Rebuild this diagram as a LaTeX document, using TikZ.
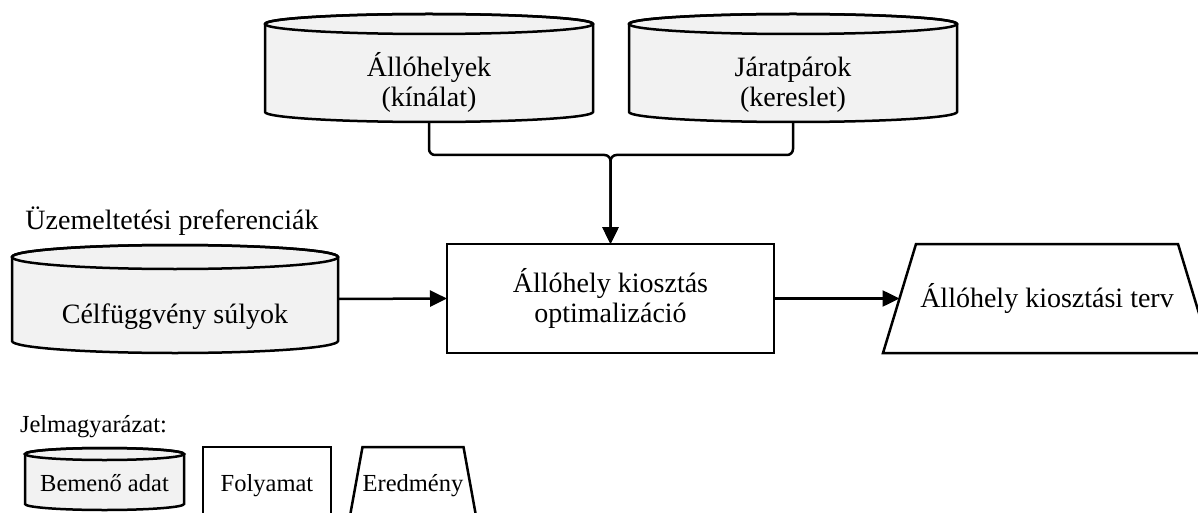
\documentclass[tikz,border=0pt]{standalone}
\usepackage{fontspec}
\setmainfont{Liberation Serif}
\usetikzlibrary{shapes.geometric,arrows.meta,calc}
\definecolor{cylfill}{RGB}{242,242,242}
\tikzset{
  ln/.style={line width=2.5pt},
  cylbox/.style={rectangle, inner sep=0pt, outer sep=0pt},
  procbox/.style={rectangle, draw, ln, fill=white, inner sep=0pt, outer sep=0pt, align=center},
  plainbox/.style={rectangle, inner sep=0pt, outer sep=0pt},
  txt/.style={inner sep=0pt, outer sep=0pt, anchor=base},
  conn/.style={ln, -{Triangle[length=17pt,width=16pt]}},
  bigtext/.style={font=\fontsize{28}{30}\selectfont},
  legtext/.style={font=\fontsize{24.5}{28}\selectfont},
}
% #1 node name, #2 half width, #3 ellipse y radius
\newcommand\drawcyl[3]{%
  \filldraw[ln, fill=cylfill] ([yshift=-#3]#1.north west) -- ([yshift=#3]#1.south west)
    arc[start angle=180, end angle=360, x radius=#2, y radius=#3]
    -- ([yshift=-#3]#1.north east)
    arc[start angle=0, end angle=180, x radius=#2, y radius=#3] -- cycle;
  \draw[ln] ([yshift=-#3]#1.north) ellipse[x radius=#2, y radius=#3];
}
% #1 node name, #2 horizontal inset of the top corners
\newcommand\drawtrap[2]{%
  \draw[ln, line join=miter] ([xshift=#2]#1.north west) -- ([xshift=-#2]#1.north east)
    -- (#1.south east) -- (#1.south west) -- cycle;
}
\begin{document}
\begin{tikzpicture}[x=1pt,y=-1pt]
\useasboundingbox (0,0) rectangle (1198,513);
\clip (0,0) rectangle (1198,513);

% top inputs
\node[cylbox, minimum width=328pt, minimum height=108pt] (stock) at (429,68) {};
\drawcyl{stock}{164pt}{10pt}
\node[txt, bigtext] (stockA) at (429,77) {Állóhelyek};
\node[txt, bigtext] (stockB) at (429,107) {(kínálat)};

\node[cylbox, minimum width=328pt, minimum height=108pt] (demand) at (793,68) {};
\drawcyl{demand}{164pt}{10pt}
\node[txt, bigtext] (demandA) at (793,77) {Járatpárok};
\node[txt, bigtext] (demandB) at (793,107) {(kereslet)};

% left input
\node[txt, bigtext] (pref) at (172,229) {Üzemeltetési preferenciák};
\node[cylbox, minimum width=326pt, minimum height=108pt] (goal) at (175,299) {};
\drawcyl{goal}{163pt}{12pt}
\node[txt, bigtext] (goalT) at (175,323) {Célfüggvény súlyok};

% process
\node[procbox, bigtext, minimum width=327pt, minimum height=109pt] (opt) at (610.5,298.5)
  {Állóhely kiosztás\\optimalizáció};

% output
\node[plainbox, bigtext, minimum width=328pt, minimum height=109pt] (out) at (1047,298.5)
  {Állóhely kiosztási terv};
\drawtrap{out}{33pt}
\coordinate (outL) at ($([xshift=33pt]out.north west)!0.5!(out.south west)$);

% connectors
\coordinate (j) at (opt.north |- 0,155);
\draw[conn, rounded corners=6pt] (stock.south) |- (j) -- (opt.north);
\draw[conn, rounded corners=6pt] (demand.south) |- (j) -- (opt.north);
\draw[conn] (goal.east) -- (opt.west);
\draw[conn] (opt.east) -- (outL);

% legend
\node[txt, legtext, anchor=base west] (legtitle) at (20,432) {Jelmagyarázat:};
\node[cylbox, minimum width=159pt, minimum height=62pt] (legcyl) at (104.5,479) {};
\drawcyl{legcyl}{79.5pt}{6pt}
\node[txt, legtext] (legcylT) at (104.5,491) {Bemenő adat};

\node[procbox, minimum width=128pt, minimum height=90pt] (legproc) at (267,492) {};
\node[txt, legtext] (legprocT) at (267,491) {Folyamat};

\node[plainbox, minimum width=130pt, minimum height=80pt] (legout) at (413,487) {};
\drawtrap{legout}{14.5pt}
\node[txt, legtext] (legoutT) at (413,491) {Eredmény};
\end{tikzpicture}
\end{document}
